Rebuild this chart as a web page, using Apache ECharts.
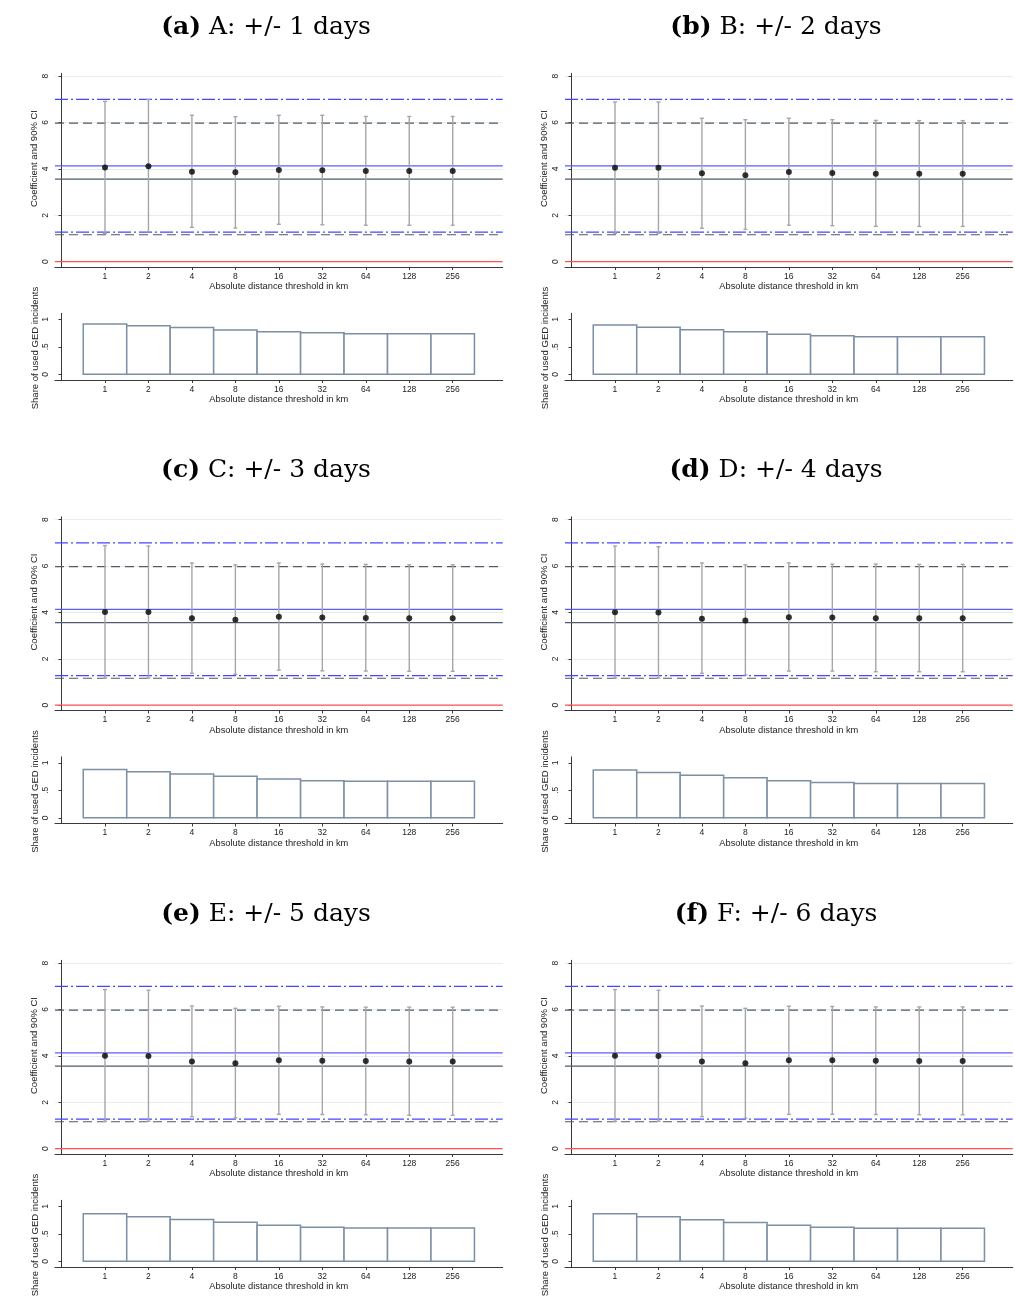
<!DOCTYPE html>
<html><head><meta charset="utf-8">
<script src="https://cdn.jsdelivr.net/npm/echarts@6/dist/echarts.min.js"></script>
<style>html,body{margin:0;padding:0;background:#fff}#c{width:1015px;height:1299px}</style>
</head><body><div id="c"></div>
<script>
const thresholds = ['1','2','4','8','16','32','64','128','256'];
const panelTags = ['(a)','(b)','(c)','(d)','(e)','(f)'];
const panelNames = ['A: +/- 1 days','B: +/- 2 days','C: +/- 3 days','D: +/- 4 days','E: +/- 5 days','F: +/- 6 days'];

const coefA = [4.06,4.11,3.88,3.85,3.95,3.94,3.91,3.91,3.91];
const coefB = [4.05,4.05,3.81,3.73,3.86,3.82,3.79,3.79,3.79];
const coefC = [4.02,4.02,3.75,3.68,3.81,3.78,3.76,3.75,3.75];
const coefD = [4.01,3.99,3.73,3.65,3.79,3.78,3.75,3.75,3.75];
const coefE = [4.01,3.99,3.76,3.68,3.81,3.79,3.78,3.76,3.76];
const coefF = [4.01,3.99,3.76,3.68,3.81,3.81,3.79,3.78,3.78];

const hiA = [6.91,6.99,6.31,6.25,6.31,6.31,6.26,6.26,6.26];
const hiB = [6.88,6.88,6.18,6.12,6.18,6.12,6.09,6.08,6.08];
const hiC = [6.88,6.86,6.13,6.05,6.13,6.08,6.07,6.05,6.05];
const hiD = [6.86,6.83,6.13,6.05,6.13,6.08,6.08,6.07,6.07];
const hiE = [6.86,6.83,6.15,6.05,6.14,6.11,6.10,6.10,6.10];
const hiF = [6.86,6.83,6.15,6.05,6.14,6.13,6.11,6.11,6.11];

const loA = [1.22,1.29,1.48,1.45,1.61,1.59,1.57,1.57,1.57];
const loB = [1.22,1.22,1.44,1.39,1.57,1.55,1.52,1.52,1.52];
const loC = [1.17,1.17,1.37,1.33,1.51,1.48,1.47,1.46,1.46];
const loD = [1.17,1.17,1.37,1.30,1.47,1.47,1.44,1.44,1.44];
const loE = [1.18,1.18,1.38,1.33,1.48,1.47,1.46,1.44,1.44];
const loF = [1.18,1.18,1.38,1.31,1.48,1.48,1.47,1.46,1.46];

const shareA = [0.915,0.885,0.850,0.806,0.776,0.758,0.739,0.739,0.739];
const shareB = [0.897,0.855,0.812,0.776,0.727,0.703,0.685,0.685,0.685];
const shareC = [0.877,0.840,0.798,0.755,0.706,0.675,0.663,0.663,0.663];
const shareD = [0.871,0.822,0.773,0.730,0.675,0.644,0.626,0.626,0.626];
const shareE = [0.865,0.810,0.761,0.712,0.656,0.620,0.607,0.607,0.607];
const shareF = [0.865,0.810,0.755,0.706,0.656,0.620,0.601,0.601,0.601];

// horizontal reference lines (same in all panels)
const refValues = [7.00, 5.97, 4.13, 3.56, 1.27, 1.16, 0];
const refKinds  = ['blueDashDot','grayDash','blueSolid','graySolid','blueDashDot','grayDash','red'];

const coefTicks = [0,2,4,6,8];
const shareTicks = [0,0.5,1];

const coefs = [coefA,coefB,coefC,coefD,coefE,coefF];
const his = [hiA,hiB,hiC,hiD,hiE,hiF];
const los = [loA,loB,loC,loD,loE,loF];
const shares = [shareA,shareB,shareC,shareD,shareE,shareF];

const SANS = 'Liberation Sans, Arial, sans-serif';
const refStyles = {
  blueDashDot:{color:'#4646ff', width:1.2, dash:[13,3,2,3]},
  grayDash:{color:'#4f5b68', width:1.2, dash:[9,5]},
  blueSolid:{color:'#5c5cff', width:1.2, dash:null},
  graySolid:{color:'#4f5b68', width:1.2, dash:null},
  red:{color:'#ff5050', width:1.2, dash:null}
};
const xIdx = thresholds.map((t,i)=>i+1);

const grids=[], xAxes=[], yAxes=[], series=[], graphics=[];

function xAxisDef(gi){
  return {type:'value', gridIndex:gi, min:-0.15, max:10.15,
    axisLine:{show:true, onZero:false, lineStyle:{color:'#3a3a3a', width:1}},
    axisTick:{show:true, length:3, customValues:xIdx, lineStyle:{color:'#3a3a3a'}},
    axisLabel:{customValues:xIdx, formatter:v=>thresholds[Math.round(v)-1]||'', fontSize:8.5, color:'#222', fontFamily:SANS, margin:5},
    splitLine:{show:false},
    name:'Absolute distance threshold in km', nameLocation:'middle', nameGap:15,
    nameTextStyle:{fontSize:9.3, color:'#222', fontFamily:SANS}};
}

for(let p=0;p<6;p++){
  const c = p%2, r = Math.floor(p/2);
  const dx = c*510, dy = r*443.5;
  const gTop = grids.length;
  grids.push({left:55+dx, top:73.3+dy, width:447.7, height:193.7});
  xAxes.push(xAxisDef(gTop));
  yAxes.push({type:'value', gridIndex:gTop, min:-0.23, max:8.12,
    axisLine:{show:true, lineStyle:{color:'#3a3a3a', width:1}},
    axisTick:{show:true, length:3, customValues:coefTicks, lineStyle:{color:'#3a3a3a'}},
    axisLabel:{customValues:coefTicks, rotate:90, fontSize:8.5, color:'#222', fontFamily:SANS, margin:5},
    splitLine:{show:true, lineStyle:{color:'#e6eded', width:1}}});
  const gBot = grids.length;
  grids.push({left:55+dx, top:313.3+dy, width:447.7, height:66.7});
  xAxes.push(xAxisDef(gBot));
  yAxes.push({type:'value', gridIndex:gBot, min:-0.104, max:1.11,
    axisLine:{show:true, lineStyle:{color:'#3a3a3a', width:1}},
    axisTick:{show:true, length:3, customValues:shareTicks, lineStyle:{color:'#3a3a3a'}},
    axisLabel:{customValues:shareTicks, rotate:90, fontSize:8.5, color:'#222', fontFamily:SANS, margin:5,
      formatter:v=>v===0.5?'.5':String(v)},
    splitLine:{show:false}});

  // reference lines across the full plot width
  series.push({type:'custom', xAxisIndex:gTop, yAxisIndex:gTop, z:1, silent:true,
    data:refValues.map((v,k)=>[v,k]),
    encode:{y:0},
    renderItem:(params, api)=>{
      const v=api.value(0), k=api.value(1);
      const cs=params.coordSys;
      const y=api.coord([1, v])[1];
      const ls=refStyles[refKinds[k]];
      const style={stroke:ls.color, lineWidth:ls.width};
      if(ls.dash) style.lineDash=ls.dash;
      return {type:'line', shape:{x1:cs.x, y1:y, x2:cs.x+cs.width, y2:y}, style:style};
    }});
  // error bars
  series.push({type:'custom', xAxisIndex:gTop, yAxisIndex:gTop, z:3, silent:true,
    data:xIdx.map((x,i)=>[x, los[p][i], his[p][i]]),
    encode:{x:0, y:[1,2]},
    renderItem:(params, api)=>{
      const x=api.value(0), lo=api.value(1), hi=api.value(2);
      const a=api.coord([x,lo]), b=api.coord([x,hi]);
      const st={stroke:'#a6a6a6', lineWidth:1.4};
      return {type:'group', children:[
        {type:'line', shape:{x1:a[0], y1:a[1], x2:b[0], y2:b[1]}, style:st},
        {type:'line', shape:{x1:a[0]-2, y1:a[1], x2:a[0]+2, y2:a[1]}, style:st},
        {type:'line', shape:{x1:b[0]-2, y1:b[1], x2:b[0]+2, y2:b[1]}, style:st}
      ]};
    }});
  // point estimates
  series.push({type:'scatter', xAxisIndex:gTop, yAxisIndex:gTop, z:4, silent:true,
    symbol:'circle', symbolSize:6, itemStyle:{color:'#000'},
    data:xIdx.map((x,i)=>[x, coefs[p][i]])});
  // share bars
  series.push({type:'custom', xAxisIndex:gBot, yAxisIndex:gBot, z:3, silent:true,
    data:xIdx.map((x,i)=>[x, shares[p][i]]),
    encode:{x:0, y:1},
    renderItem:(params, api)=>{
      const x=api.value(0), v=api.value(1);
      const a=api.coord([x-0.5,0]), b=api.coord([x+0.5,v]);
      return {type:'rect', shape:{x:a[0], y:b[1], width:b[0]-a[0], height:a[1]-b[1]},
        style:{fill:'#fff', stroke:'#7c8fa3', lineWidth:1.5}};
    }});

  graphics.push({type:'text', x:266+dx, y:27+dy, style:{
    text:'{b|'+panelTags[p]+'} '+panelNames[p], align:'center', verticalAlign:'middle',
    fontFamily:'DejaVu Serif', fontSize:25, fill:'#000',
    rich:{b:{fontFamily:'DejaVu Serif', fontSize:25, fontWeight:'bold', fill:'#000'}}}});
  graphics.push({type:'text', x:34+dx, y:158.5+dy, rotation:Math.PI/2, style:{
    text:'Coefficient and 90% CI', align:'center', verticalAlign:'middle',
    fontFamily:SANS, fontSize:9.5, fill:'#222'}});
  graphics.push({type:'text', x:35+dx, y:348+dy, rotation:Math.PI/2, style:{
    text:'Share of used GED incidents', align:'center', verticalAlign:'middle',
    fontFamily:SANS, fontSize:9.5, fill:'#222'}});
}

const chart = echarts.init(document.getElementById('c'), null, {renderer:'canvas'});
chart.setOption({animation:false, backgroundColor:'#fff',
  grid:grids, xAxis:xAxes, yAxis:yAxes, series:series, graphic:graphics});
</script></body></html>
